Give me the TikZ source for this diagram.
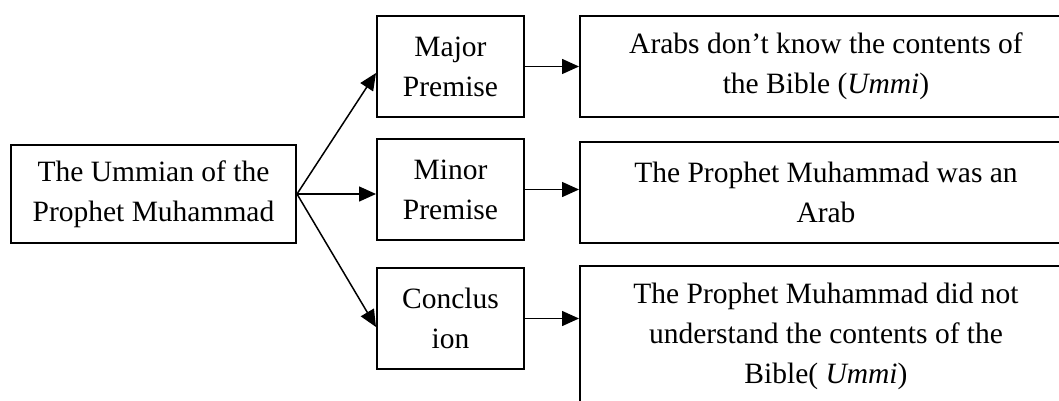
\documentclass[tikz,border=0pt]{standalone}
\usepackage{fontspec}
\setmainfont{Liberation Serif}
\usetikzlibrary{arrows.meta}
\tikzset{
  box/.style={draw, line width=2pt, align=center, inner sep=0pt, font=\fontsize{29.5}{40}\selectfont},
  arr/.style={line width=1.5pt, -{Triangle[length=17pt,width=15pt]}}
}
\begin{document}
\begin{tikzpicture}[x=1pt,y=-1pt]
\useasboundingbox (0,0) rectangle (1059,401);
\clip (0,0) rectangle (1059,401);
\node[box, minimum width=285, minimum height=98] (root) at (153.5,194){The Ummian of the\\Prophet Muhammad};
\node[box, minimum width=147, minimum height=101] (major) at (450.5,66.5){Major\\Premise};
\node[box, minimum width=147, minimum height=101] (minor) at (450.5,189.5){Minor\\Premise};
\node[box, minimum width=147, minimum height=101] (concl) at (450.5,318.5){Conclus\\ion};
\node[box, minimum width=492, minimum height=101] (majortxt) at (826,66.5){Arabs don’t know the contents of\\the Bible (\textit{Ummi})};
\node[box, minimum width=492, minimum height=101] (minortxt) at (826,192.5){The Prophet Muhammad was an\\Arab};
\node[box, minimum width=492, minimum height=140] (concltxt) at (826,336){The Prophet Muhammad did not\\understand the contents of the\\Bible( \textit{Ummi})};
\draw[arr](root.east) -- ([yshift=-6.5pt]major.west);
\draw[arr](root.east) -- (root.east -| minor.west);
\draw[arr](root.east) -- ([yshift=-8.5pt]concl.west);
\draw[arr](major.east) -- (major.east -| majortxt.west);
\draw[arr](minor.east) -- (minor.east -| minortxt.west);
\draw[arr](concl.east) -- (concl.east -| concltxt.west);
\end{tikzpicture}
\end{document}
